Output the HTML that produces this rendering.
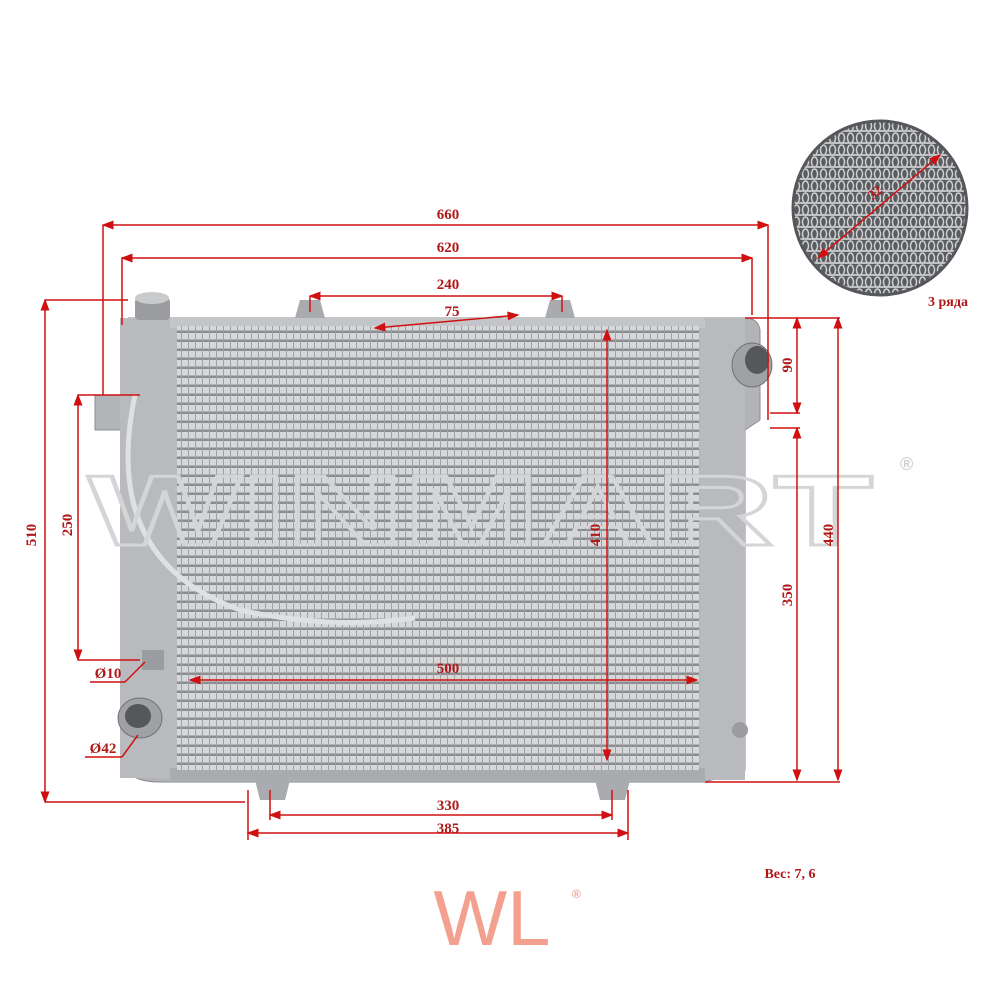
<!DOCTYPE html>
<html><head><meta charset="utf-8"><style>
html,body{margin:0;padding:0;background:#fff;}
svg{display:block;}
text{font-family:"Liberation Serif",serif;font-weight:bold;fill:#b01818;}
</style></head><body>
<svg width="1000" height="1000" viewBox="0 0 1000 1000" xmlns="http://www.w3.org/2000/svg">
<defs>
<pattern id="fins" width="7" height="9" patternUnits="userSpaceOnUse">
<rect width="7" height="9" fill="#d6d7d9"/>
<rect y="6.5" width="7" height="2.5" fill="#8a8c90"/>
<rect x="6" width="1" height="9" fill="#9fa1a4"/>
</pattern>
<pattern id="fins2" width="9" height="12" patternUnits="userSpaceOnUse">
<rect width="9" height="12" fill="#5a5c60"/>
<ellipse cx="4.5" cy="6" rx="3" ry="5" fill="none" stroke="#d0d1d3" stroke-width="1.5"/>
<rect y="10" width="9" height="2" fill="#bfc0c2"/>
</pattern>
<marker id="a" markerWidth="8" markerHeight="8" refX="7" refY="4" orient="auto-start-reverse"><path d="M0,1 L8,4 L0,7z" fill="#d01010"/></marker>
<clipPath id="cc"><circle cx="880" cy="208" r="86"/></clipPath>
</defs>

<path d="M128,318 L745,318 Q758,318 760,330 L760,420 L745,430 L745,770 L705,782 L160,782 Q125,782 125,760 L125,430 L95,430 L95,395 L125,395 L125,330 Q125,318 140,318z" fill="#b2b4b7" stroke="#8a8c90"/>
<rect x="120" y="318" width="60" height="460" fill="#b8babd"/>
<rect x="700" y="318" width="45" height="462" fill="#b8babd"/>
<rect x="170" y="318" width="535" height="10" fill="#c4c5c8"/>
<rect x="170" y="768" width="535" height="12" fill="#a9abae"/>
<rect x="177" y="326" width="522" height="444" fill="url(#fins)"/>
<path d="M295,318 L300,300 L320,300 L325,318z" fill="#a9abae"/>
<path d="M545,318 L550,300 L570,300 L575,318z" fill="#a9abae"/>
<path d="M255,780 L260,800 L285,800 L290,780z" fill="#a9abae"/>
<path d="M595,780 L600,800 L625,800 L630,780z" fill="#a9abae"/>
<rect x="135" y="298" width="35" height="22" rx="4" fill="#9a9ca0"/>
<ellipse cx="152" cy="298" rx="17" ry="6" fill="#c9cacc"/>
<ellipse cx="752" cy="365" rx="20" ry="22" fill="#9fa1a4" stroke="#6f7175"/>
<ellipse cx="757" cy="360" rx="12" ry="14" fill="#55575b"/>
<ellipse cx="140" cy="718" rx="22" ry="20" fill="#9fa1a4" stroke="#6f7175"/>
<ellipse cx="138" cy="716" rx="13" ry="12" fill="#55575b"/>
<rect x="142" y="650" width="22" height="20" fill="#9a9ca0"/>
<ellipse cx="740" cy="730" rx="8" ry="8" fill="#9a9ca0"/>
<path d="M135,395 Q100,560 240,610 Q330,630 415,618" fill="none" stroke="#dfe0e2" stroke-width="5"/>

<text x="88" y="545" font-size="100" lengthAdjust="spacingAndGlyphs" textLength="785" style="fill:none;stroke:#d4d5d7;stroke-width:3;font-family:'Liberation Sans',sans-serif;font-weight:bold">WINMART</text>

<g stroke="#d01010" stroke-width="1.5" fill="none">
<line x1="103" y1="225" x2="768" y2="225" marker-start="url(#a)" marker-end="url(#a)"/>
<line x1="103" y1="225" x2="103" y2="395"/><line x1="768" y1="225" x2="768" y2="420"/>
<line x1="122" y1="258" x2="752" y2="258" marker-start="url(#a)" marker-end="url(#a)"/>
<line x1="122" y1="258" x2="122" y2="325"/><line x1="752" y1="258" x2="752" y2="315"/>
<line x1="310" y1="296" x2="562" y2="296" marker-start="url(#a)" marker-end="url(#a)"/>
<line x1="310" y1="296" x2="310" y2="312"/><line x1="562" y1="296" x2="562" y2="312"/>
<line x1="375" y1="328" x2="518" y2="315" marker-start="url(#a)" marker-end="url(#a)"/>
<line x1="45" y1="300" x2="45" y2="802" marker-start="url(#a)" marker-end="url(#a)"/>
<line x1="45" y1="300" x2="128" y2="300"/><line x1="45" y1="802" x2="245" y2="802"/>
<line x1="78" y1="395" x2="78" y2="660" marker-start="url(#a)" marker-end="url(#a)"/>
<line x1="78" y1="395" x2="140" y2="395"/><line x1="78" y1="660" x2="140" y2="660"/>
<line x1="90" y1="682" x2="125" y2="682"/><line x1="125" y1="682" x2="145" y2="662"/>
<line x1="85" y1="757" x2="122" y2="757"/><line x1="122" y1="757" x2="138" y2="735"/>
<line x1="797" y1="318" x2="797" y2="413" marker-start="url(#a)" marker-end="url(#a)"/>
<line x1="745" y1="318" x2="840" y2="318"/><line x1="770" y1="413" x2="800" y2="413"/>
<line x1="838" y1="318" x2="838" y2="780" marker-start="url(#a)" marker-end="url(#a)"/>
<line x1="797" y1="428" x2="797" y2="780" marker-start="url(#a)" marker-end="url(#a)"/>
<line x1="705" y1="782" x2="840" y2="782"/><line x1="770" y1="428" x2="800" y2="428"/>
<line x1="607" y1="330" x2="607" y2="760" marker-start="url(#a)" marker-end="url(#a)"/>
<line x1="190" y1="680" x2="697" y2="680" marker-start="url(#a)" marker-end="url(#a)"/>
<line x1="270" y1="815" x2="612" y2="815" marker-start="url(#a)" marker-end="url(#a)"/>
<line x1="248" y1="833" x2="628" y2="833" marker-start="url(#a)" marker-end="url(#a)"/>
<line x1="248" y1="790" x2="248" y2="840"/><line x1="270" y1="790" x2="270" y2="820"/>
<line x1="612" y1="790" x2="612" y2="820"/><line x1="628" y1="790" x2="628" y2="840"/>
</g>
<g font-size="15" text-anchor="middle">
<text x="448" y="219">660</text>
<text x="448" y="252">620</text>
<text x="448" y="289">240</text>
<text x="452" y="316">75</text>
<text x="448" y="673">500</text>
<text x="448" y="810">330</text>
<text x="448" y="833">385</text>
<text transform="translate(36,535) rotate(-90)">510</text>
<text transform="translate(72,525) rotate(-90)">250</text>
<text transform="translate(792,365) rotate(-90)">90</text>
<text transform="translate(833,535) rotate(-90)">440</text>
<text transform="translate(792,595) rotate(-90)">350</text>
<text transform="translate(600,535) rotate(-90)">410</text>
<text x="108" y="678">Ø10</text>
<text x="103" y="753">Ø42</text>
<text x="790" y="878" font-size="14">Вес: 7, 6</text>
<text x="948" y="306" font-size="14">3 ряда</text>
</g>

<circle cx="880" cy="208" r="88" fill="#6a6c70"/>
<rect x="790" y="118" width="180" height="180" fill="url(#fins2)" clip-path="url(#cc)"/>
<circle cx="880" cy="208" r="87" fill="none" stroke="#55575b" stroke-width="3"/>
<line x1="818" y1="258" x2="940" y2="155" stroke="#d01010" stroke-width="1.5" marker-start="url(#a)" marker-end="url(#a)"/>
<text x="878" y="196" font-size="14" text-anchor="middle" transform="rotate(-40 878 196)">32</text>

<text x="492" y="945" font-size="78" text-anchor="middle" style="fill:#f4a08e;font-family:'Liberation Sans',sans-serif;font-weight:normal">WL</text>
<text x="572" y="898" font-size="12" style="fill:#f4a08e;font-family:'Liberation Sans',sans-serif">®</text>
<text x="900" y="470" font-size="18" style="fill:#cfd0d2;font-family:'Liberation Sans',sans-serif">®</text>
</svg>
</body></html>
